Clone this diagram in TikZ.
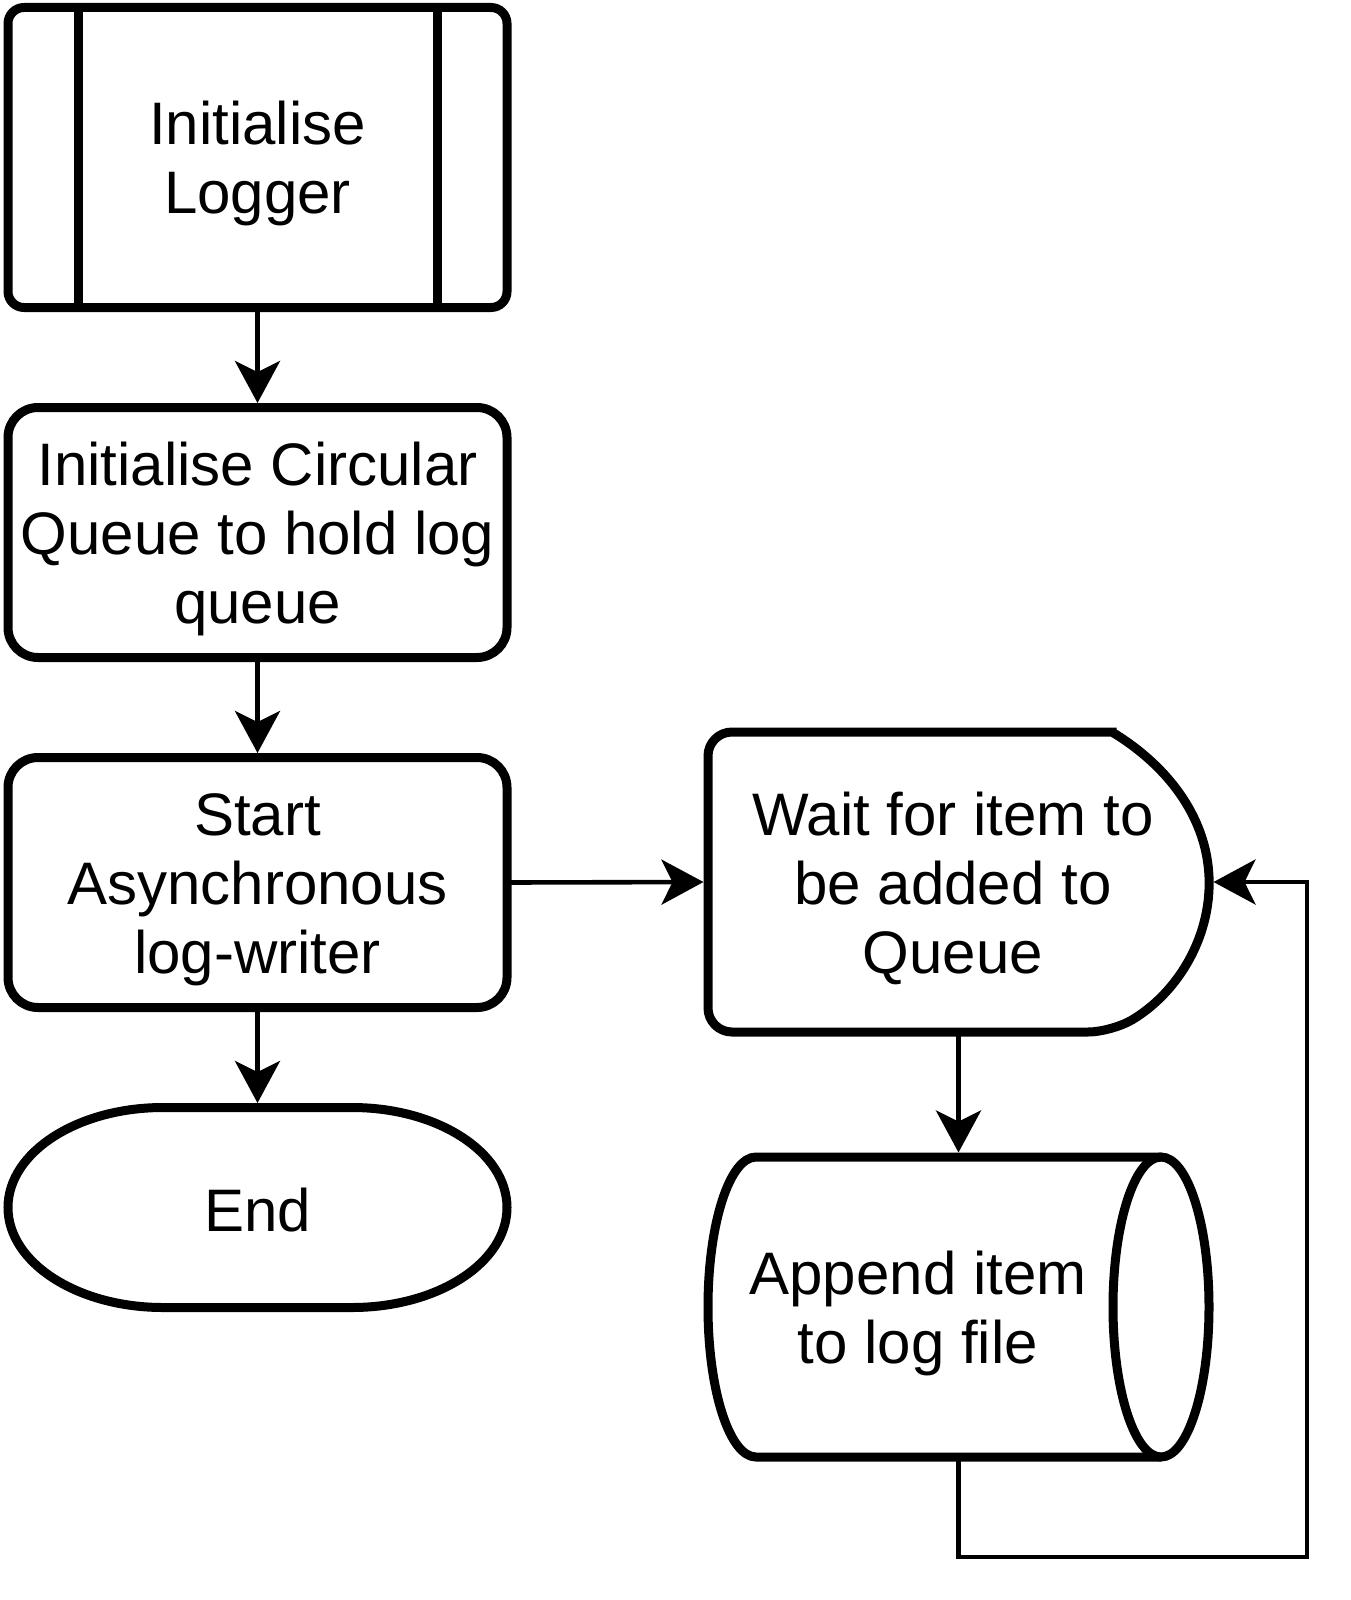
\documentclass[tikz,border=0pt]{standalone}
\usepackage{fontspec}
\setmainfont{Liberation Sans}
\usetikzlibrary{arrows.meta,calc}
\newcommand\cs{\rule[-4.25pt]{0pt}{32.25pt}}
\begin{document}
\begin{tikzpicture}[x=0.5pt,y=-0.5pt,
  txt/.style={font=\fontsize{30pt}{34.5pt}\selectfont, align=center, inner sep=0pt, outer sep=0pt},
  shp/.style={line width=4.5pt},
  frame/.style={txt, rectangle, minimum width=249.5pt, minimum height=#1},
  rbox/.style={frame=#1, draw, line width=4.5pt, rounded corners=15pt},
  conn/.style={line width=2.3pt, shorten >=2.25pt, -{Stealth[length=21pt,width=22.5pt,inset=5.5pt]}},
]
\useasboundingbox (0,0) rectangle (1350,1600);

% Predefined process
\node[frame=150pt, draw, line width=4.5pt, rounded corners=8pt] (init) at (257.5,157.5) {\cs Initialise\\Logger\cs};
\draw[shp] ([xshift=35pt]init.north west) -- ([xshift=35pt]init.south west);
\draw[shp] ([xshift=-35pt]init.north east) -- ([xshift=-35pt]init.south east);

% Process boxes
\node[rbox=125pt] (queue) at (257.5,532.5) {\cs Initialise Circular\\Queue to hold log\\queue\cs};
\node[rbox=125pt] (start) at (257.5,882.5) {\cs Start\\Asynchronous\\log-writer\cs};

% Terminator
\node[frame=100pt] (endn) at (257.5,1207.5) {\cs End\cs};
\draw[shp] ($(endn.north west)+(155,0)$) -- ($(endn.north east)+(-155,0)$)
  arc[start angle=90,end angle=-90,x radius=77.5pt,y radius=50pt]
  -- ($(endn.south west)+(155,0)$)
  arc[start angle=270,end angle=90,x radius=77.5pt,y radius=50pt] -- cycle;

% Delay
\node[frame=150pt, minimum width=250.5pt] (wait) at (958.5,882) {};
\draw[shp, rounded corners=12pt] ($(wait.north east)+(-97,0)$) -- (wait.north west) -- (wait.south west) -- ($(wait.south east)+(-97,0)$)
  [sharp corners] arc[start angle=-50,end angle=50,x radius=135.8pt,y radius=97.9pt] -- cycle;
\node[txt] (waittxt) at (953,882) {\cs Wait for item to\\be added to\\Queue\cs};

% Stored data (cylinder)
\node[frame=150pt, minimum width=250.5pt] (cyl) at (958.5,1307) {};
\draw[shp] ($(cyl.north east)+(-48,0)$) -- ($(cyl.north west)+(48,0)$)
  arc[start angle=90,end angle=270,x radius=24pt,y radius=75pt]
  -- ($(cyl.south east)+(-48,0)$);
\draw[shp] ($(cyl.east)+(-48,0)$) ellipse [x radius=24pt, y radius=75pt];
\node[txt] (cyltxt) at (918,1307) {\cs Append item\\to log file\cs};

% Connectors
\draw[conn] (init.south) -- (queue.north);
\draw[conn] (queue.south) -- (start.north);
\draw[conn] (start.south) -- (endn.north);
\draw[conn] (start.east) -- (wait.west);
\draw[conn] (wait.south) -- (cyl.north);
\coordinate (lb) at (1307,1557);
\draw[conn] (cyl.south) |- (lb) |- (wait.east);
\end{tikzpicture}
\end{document}
